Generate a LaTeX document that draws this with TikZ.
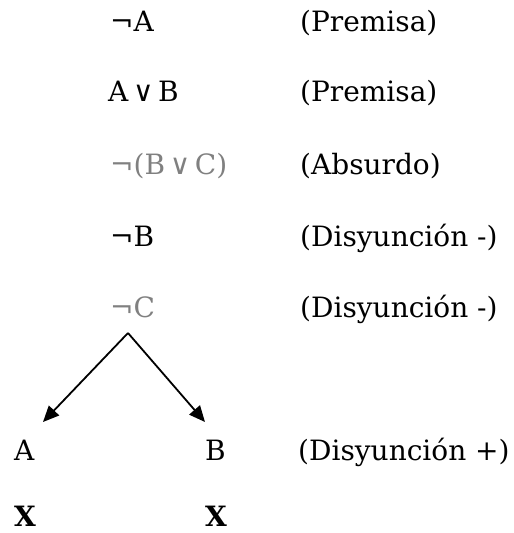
\documentclass[tikz,border=0pt]{standalone}
\usepackage{fontspec}
\setmainfont{DejaVu Serif}
\usetikzlibrary{arrows.meta}
\definecolor{fgray}{RGB}{128,128,128}
\begin{document}
\begin{tikzpicture}[x=1pt,y=-1pt,
  txt/.style={anchor=base west,inner sep=0pt,font=\fontsize{28}{34}\selectfont},
  dim/.style={txt,text=fgray},
  bx/.style={txt,font=\fontsize{28}{34}\selectfont\bfseries},
  arr/.style={-{Triangle[length=16pt,width=14pt]},line width=1.8pt}]
\useasboundingbox (0,0) rectangle (514,533);
\node[txt] (f1) at (110,31) {¬A};
\node[txt] (f2) at (108,101) {A\,∨\,B};
\node[dim] (f3) at (110,174) {¬(B\,∨\,C)};
\node[txt] (f4) at (110,246) {¬B};
\node[dim] (f5) at (110,317) {¬C};
\node[txt] (r1) at (300,31) {(Premisa)};
\node[txt] (r2) at (300,101) {(Premisa)};
\node[txt] (r3) at (300,174) {(Absurdo)};
\node[txt] (r4) at (300,246) {(Disyunción -)};
\node[txt] (r5) at (300,317) {(Disyunción -)};
\node[txt] (a) at (14,460) {A};
\node[txt] (b) at (205,460) {B};
\node[txt] (r6) at (298,460) {(Disyunción +)};
\node[bx] (xa) at (14,526) {X};
\node[bx] (xb) at (205,526) {X};
\coordinate (apex) at (128,333);
\coordinate (ta) at (43,422);
\coordinate (tb) at (205,422);
\draw[arr] (apex) -- (ta);
\draw[arr] (apex) -- (tb);
\end{tikzpicture}
\end{document}
